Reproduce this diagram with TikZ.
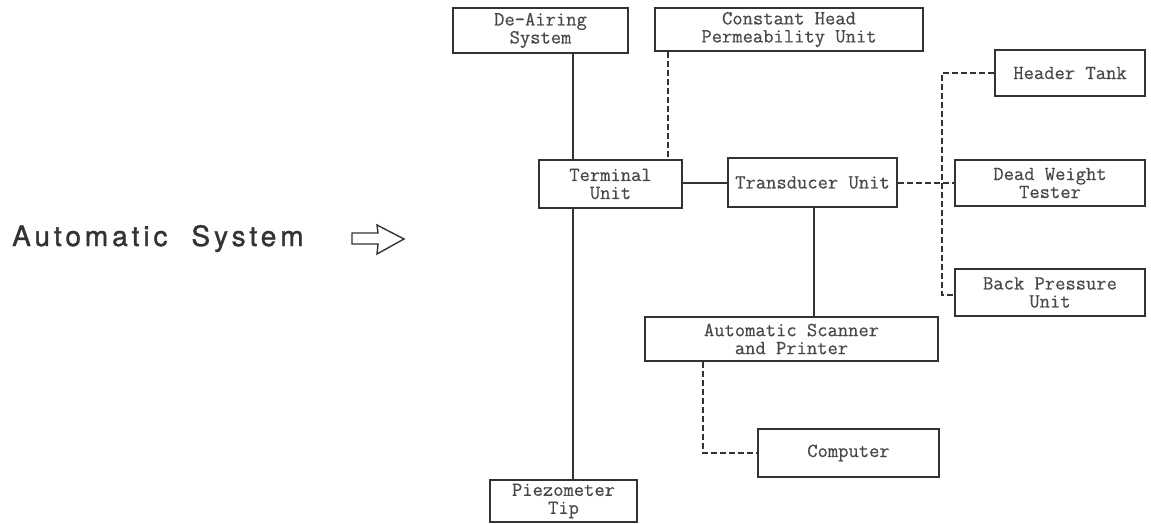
\documentclass[tikz,border=0pt]{standalone}
\usepackage{fontspec}
\newfontfamily\headfont[LetterSpace=14, FakeBold=1.2]{TeX Gyre Heros}
\newfontfamily\typefont[FakeBold=0.5]{Latin Modern Mono}
\usetikzlibrary{calc}
\definecolor{ink}{HTML}{333333}
\definecolor{txt}{HTML}{484848}
\tikzset{
  unitbox/.style={draw=ink, line width=2pt, rectangle, inner sep=0pt,
    align=center, text=txt, font=\fontsize{20}{18}\selectfont\typefont},
  solidlink/.style={draw=ink, line width=2pt},
  dashlink/.style={draw=ink, line width=2pt, dash pattern=on 6pt off 3pt}
}
\begin{document}
\begin{tikzpicture}[x=1pt, y=-1pt]
\useasboundingbox (0,0) rectangle (1151,524);

% left caption and arrow
\node[anchor=base west, inner sep=0pt, text=ink, font=\fontsize{28}{30}\selectfont\headfont] (cap) at (12,246) {Automatic\hspace{24pt}System};
\draw[ink, line width=1.4pt, line join=miter] (352,233) -- (378,233) -- (377,225) -- (404,239) -- (377,254) -- (378,244) -- (352,244) -- cycle;

% boxes
\node[unitbox, minimum width=175pt, minimum height=45pt] (deair) at (540.5,30.5) {De-Airing\\System};
\node[unitbox, minimum width=268pt, minimum height=43pt] (const) at (789,29.5) {Constant Head\\Permeability Unit};
\node[unitbox, minimum width=143pt, minimum height=48pt] (term) at (610.5,184) {Terminal\\Unit};
\node[unitbox, minimum width=169pt, minimum height=49pt] (trans) at (812.5,182.5) {Transducer Unit};
\node[unitbox, minimum width=150pt, minimum height=46pt] (header) at (1070,73) {Header Tank};
\node[unitbox, minimum width=190pt, minimum height=46pt] (dead) at (1050,183) {Dead Weight\\Tester};
\node[unitbox, minimum width=190pt, minimum height=47pt] (back) at (1050,292.5) {Back Pressure\\Unit};
\node[unitbox, minimum width=293pt, minimum height=44pt] (scan) at (791.5,339) {Automatic Scanner\\and Printer};
\node[unitbox, minimum width=181pt, minimum height=48pt] (comp) at (848.5,453) {Computer};
\node[unitbox, minimum width=147pt, minimum height=42pt] (piezo) at (563.5,501) {Piezometer\\Tip};

\coordinate (bus) at (942,0);

% connectors
\draw[solidlink] ([xshift=32.5pt]deair.south) -- ([xshift=32.5pt]deair.south |- term.north);
\draw[dashlink] ([xshift=-121pt]const.south) -- ([xshift=-121pt]const.south |- term.north);
\draw[solidlink] ([xshift=-37.5pt]term.south) -- ([xshift=-37.5pt]term.south |- piezo.north);
\draw[solidlink] (term.east |- 0,183) -- (trans.west |- 0,183);
\draw[solidlink] ([xshift=1.5pt]trans.south) -- ([xshift=1.5pt]trans.south |- scan.north);
\draw[dashlink] (trans.east |- dead.west) -- (dead.west);
\draw[dashlink] (header.west) -- (header.west -| bus) -- (bus |- 0,295) -- (back.west |- 0,295);
\draw[dashlink] ([xshift=-88.5pt]scan.south) |- (comp.west);
\end{tikzpicture}
\end{document}
